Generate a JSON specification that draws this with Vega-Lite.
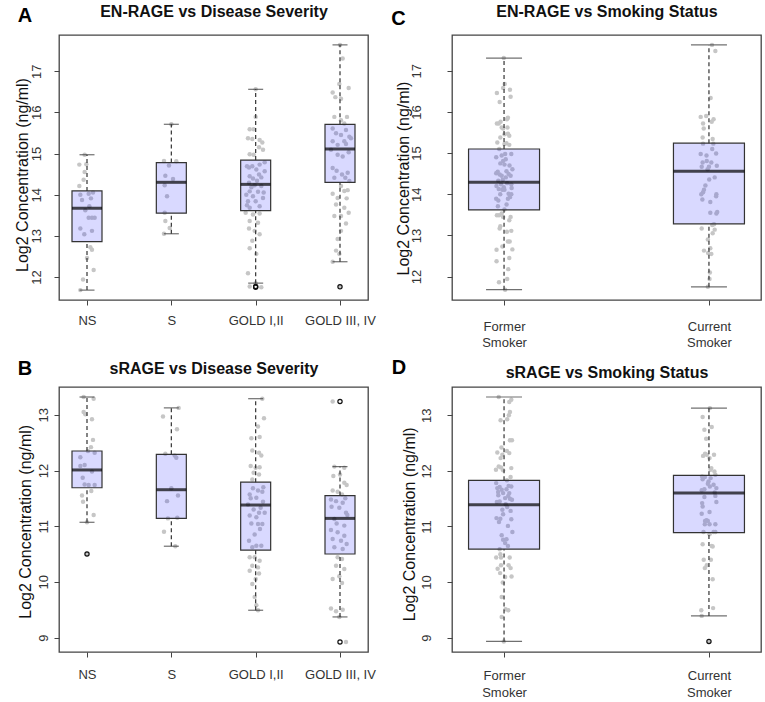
{
"$schema": "https://vega.github.io/schema/vega-lite/v6.json",
"padding": {"left": 14, "top": 2, "right": 5, "bottom": 2},
"columns": 2,
"spacing": {"row": 87, "column": 84},
"bounds": "flush",
"datasets": {
"ptsA": [
{"g":"NS","j":-0.091,"v":14.73},{"g":"NS","j":-0.008,"v":14.74},{"g":"NS","j":-0.028,"v":14.55},{"g":"NS","j":-0.04,"v":14.36},{"g":"NS","j":-0.091,"v":14.21},{"g":"NS","j":-0.079,"v":14.0},{"g":"NS","j":0.02,"v":14.02},{"g":"NS","j":0.071,"v":14.05},{"g":"NS","j":-0.059,"v":13.87},{"g":"NS","j":0.047,"v":13.91},{"g":"NS","j":0.028,"v":13.72},{"g":"NS","j":-0.02,"v":13.62},{"g":"NS","j":0.02,"v":13.44},{"g":"NS","j":0.059,"v":13.44},{"g":"NS","j":0.091,"v":13.44},{"g":"NS","j":-0.079,"v":13.18},{"g":"NS","j":0.059,"v":13.12},{"g":"NS","j":-0.032,"v":13.04},{"g":"NS","j":0.04,"v":12.72},{"g":"NS","j":0.059,"v":12.66},{"g":"NS","j":0,"v":12.46},{"g":"NS","j":0.079,"v":12.17},{"g":"NS","j":-0.047,"v":11.94},{"g":"NS","j":-0.079,"v":11.68},{"g":"NS","j":-0.028,"v":14.97},
{"g":"S","j":-0.087,"v":14.82},{"g":"S","j":-0.028,"v":14.71},{"g":"S","j":0.059,"v":14.81},{"g":"S","j":-0.071,"v":14.46},{"g":"S","j":0.02,"v":14.38},{"g":"S","j":-0.079,"v":14.23},{"g":"S","j":-0.051,"v":13.96},{"g":"S","j":-0.079,"v":13.56},{"g":"S","j":-0.071,"v":13.36},{"g":"S","j":-0.02,"v":13.19},{"g":"S","j":-0.087,"v":13.05},{"g":"S","j":0,"v":15.71},
{"g":"GOLD I,II","j":0,"v":16.56},{"g":"GOLD I,II","j":0,"v":15.89},{"g":"GOLD I,II","j":-0.071,"v":15.59},{"g":"GOLD I,II","j":-0.024,"v":15.59},{"g":"GOLD I,II","j":-0.091,"v":15.37},{"g":"GOLD I,II","j":-0.04,"v":15.35},{"g":"GOLD I,II","j":0.047,"v":15.33},{"g":"GOLD I,II","j":0.079,"v":15.27},{"g":"GOLD I,II","j":0.04,"v":15.15},{"g":"GOLD I,II","j":0.087,"v":15.09},{"g":"GOLD I,II","j":-0.071,"v":14.98},{"g":"GOLD I,II","j":-0.024,"v":14.97},{"g":"GOLD I,II","j":0.107,"v":14.79},{"g":"GOLD I,II","j":-0.04,"v":14.69},{"g":"GOLD I,II","j":-0.079,"v":14.66},{"g":"GOLD I,II","j":0.047,"v":14.73},{"g":"GOLD I,II","j":0.008,"v":14.61},{"g":"GOLD I,II","j":-0.071,"v":14.45},{"g":"GOLD I,II","j":-0.032,"v":14.39},{"g":"GOLD I,II","j":0.04,"v":14.49},{"g":"GOLD I,II","j":0.107,"v":14.57},{"g":"GOLD I,II","j":-0.079,"v":14.29},{"g":"GOLD I,II","j":-0.012,"v":14.23},{"g":"GOLD I,II","j":0.067,"v":14.21},{"g":"GOLD I,II","j":-0.071,"v":14.08},{"g":"GOLD I,II","j":0.028,"v":14.07},{"g":"GOLD I,II","j":-0.111,"v":14.0},{"g":"GOLD I,II","j":-0.032,"v":13.96},{"g":"GOLD I,II","j":0.087,"v":13.92},{"g":"GOLD I,II","j":-0.091,"v":13.84},{"g":"GOLD I,II","j":0,"v":13.84},{"g":"GOLD I,II","j":0.047,"v":13.72},{"g":"GOLD I,II","j":-0.071,"v":13.68},{"g":"GOLD I,II","j":-0.119,"v":13.56},{"g":"GOLD I,II","j":-0.032,"v":13.52},{"g":"GOLD I,II","j":0.047,"v":13.54},{"g":"GOLD I,II","j":-0.071,"v":13.36},{"g":"GOLD I,II","j":0.028,"v":13.32},{"g":"GOLD I,II","j":-0.079,"v":13.18},{"g":"GOLD I,II","j":-0.012,"v":13.12},{"g":"GOLD I,II","j":0.047,"v":13.04},{"g":"GOLD I,II","j":-0.04,"v":12.88},{"g":"GOLD I,II","j":-0.071,"v":12.7},{"g":"GOLD I,II","j":0.008,"v":12.56},{"g":"GOLD I,II","j":-0.091,"v":12.09},{"g":"GOLD I,II","j":0,"v":11.85},{"g":"GOLD I,II","j":-0.071,"v":11.77},{"g":"GOLD I,II","j":0.067,"v":11.75},{"g":"GOLD I,II","j":-0.103,"v":14.69},{"g":"GOLD I,II","j":0.067,"v":14.42},{"g":"GOLD I,II","j":-0.051,"v":14.18},{"g":"GOLD I,II","j":0.016,"v":14.34},{"g":"GOLD I,II","j":0.095,"v":14.05},{"g":"GOLD I,II","j":-0.103,"v":13.74},
{"g":"GOLD III, IV","j":0,"v":17.64},{"g":"GOLD III, IV","j":0.032,"v":17.31},{"g":"GOLD III, IV","j":-0.008,"v":16.69},{"g":"GOLD III, IV","j":0.103,"v":16.59},{"g":"GOLD III, IV","j":-0.087,"v":16.48},{"g":"GOLD III, IV","j":-0.055,"v":16.37},{"g":"GOLD III, IV","j":0.012,"v":16.33},{"g":"GOLD III, IV","j":-0.067,"v":15.89},{"g":"GOLD III, IV","j":0.083,"v":15.89},{"g":"GOLD III, IV","j":0.012,"v":15.81},{"g":"GOLD III, IV","j":0.051,"v":15.73},{"g":"GOLD III, IV","j":-0.087,"v":15.61},{"g":"GOLD III, IV","j":0.071,"v":15.57},{"g":"GOLD III, IV","j":-0.047,"v":15.49},{"g":"GOLD III, IV","j":0.012,"v":15.45},{"g":"GOLD III, IV","j":0.111,"v":15.41},{"g":"GOLD III, IV","j":-0.087,"v":15.3},{"g":"GOLD III, IV","j":0.051,"v":15.3},{"g":"GOLD III, IV","j":0.13,"v":15.37},{"g":"GOLD III, IV","j":-0.028,"v":15.21},{"g":"GOLD III, IV","j":0.071,"v":15.23},{"g":"GOLD III, IV","j":-0.107,"v":15.09},{"g":"GOLD III, IV","j":0.103,"v":15.03},{"g":"GOLD III, IV","j":-0.028,"v":14.97},{"g":"GOLD III, IV","j":0.032,"v":14.93},{"g":"GOLD III, IV","j":-0.087,"v":14.65},{"g":"GOLD III, IV","j":-0.04,"v":14.58},{"g":"GOLD III, IV","j":0.091,"v":14.53},{"g":"GOLD III, IV","j":0.024,"v":14.49},{"g":"GOLD III, IV","j":-0.067,"v":14.41},{"g":"GOLD III, IV","j":0.063,"v":14.41},{"g":"GOLD III, IV","j":0.111,"v":14.33},{"g":"GOLD III, IV","j":0.012,"v":14.21},{"g":"GOLD III, IV","j":0.091,"v":14.11},{"g":"GOLD III, IV","j":-0.087,"v":14.02},{"g":"GOLD III, IV","j":0.051,"v":14.09},{"g":"GOLD III, IV","j":-0.028,"v":13.92},{"g":"GOLD III, IV","j":0.079,"v":13.91},{"g":"GOLD III, IV","j":-0.047,"v":13.76},{"g":"GOLD III, IV","j":0.051,"v":13.68},{"g":"GOLD III, IV","j":0.103,"v":13.56},{"g":"GOLD III, IV","j":-0.067,"v":13.48},{"g":"GOLD III, IV","j":0.012,"v":13.48},{"g":"GOLD III, IV","j":0.071,"v":13.3},{"g":"GOLD III, IV","j":0.012,"v":13.12},{"g":"GOLD III, IV","j":-0.028,"v":12.92},{"g":"GOLD III, IV","j":-0.047,"v":12.64},{"g":"GOLD III, IV","j":-0.008,"v":12.56},{"g":"GOLD III, IV","j":-0.087,"v":12.37},{"g":"GOLD III, IV","j":0,"v":11.76}
],
"boxA": [
{"g":"NS","lo":11.68,"q1":12.86,"med":13.67,"q3":14.09,"hi":14.97},
{"g":"S","lo":13.05,"q1":13.55,"med":14.3,"q3":14.78,"hi":15.71},
{"g":"GOLD I,II","lo":11.85,"q1":13.61,"med":14.25,"q3":14.84,"hi":16.56},
{"g":"GOLD III, IV","lo":12.37,"q1":14.3,"med":15.11,"q3":15.71,"hi":17.64}
],
"outA": [{"g":"GOLD I,II","v":11.77},{"g":"GOLD I,II","v":11.75},{"g":"GOLD III, IV","v":11.76}],
"ptsB": [
{"g":"NS","j":-0.04,"v":13.32},{"g":"NS","j":0.079,"v":13.29},{"g":"NS","j":-0.04,"v":13.05},{"g":"NS","j":-0.02,"v":13.01},{"g":"NS","j":0.059,"v":12.92},{"g":"NS","j":0.071,"v":12.55},{"g":"NS","j":0.047,"v":12.42},{"g":"NS","j":0.091,"v":12.32},{"g":"NS","j":0.012,"v":12.35},{"g":"NS","j":-0.079,"v":12.24},{"g":"NS","j":-0.028,"v":12.1},{"g":"NS","j":-0.079,"v":12.08},{"g":"NS","j":0.059,"v":11.98},{"g":"NS","j":-0.051,"v":11.87},{"g":"NS","j":-0.028,"v":11.75},{"g":"NS","j":0.091,"v":11.74},{"g":"NS","j":0.02,"v":11.74},{"g":"NS","j":0.051,"v":11.63},{"g":"NS","j":-0.059,"v":11.55},{"g":"NS","j":-0.047,"v":11.44},{"g":"NS","j":0.079,"v":11.2},{"g":"NS","j":0,"v":11.07},{"g":"NS","j":0,"v":10.5},
{"g":"S","j":0.087,"v":13.125},{"g":"S","j":-0.099,"v":12.97},{"g":"S","j":0.067,"v":12.74},{"g":"S","j":-0.071,"v":12.3},{"g":"S","j":0.04,"v":12.27},{"g":"S","j":0.059,"v":12.23},{"g":"S","j":0,"v":11.68},{"g":"S","j":0.079,"v":11.55},{"g":"S","j":-0.051,"v":11.45},{"g":"S","j":0.071,"v":11.15},{"g":"S","j":-0.04,"v":11.14},{"g":"S","j":-0.087,"v":10.9},{"g":"S","j":0.047,"v":10.64},
{"g":"GOLD I,II","j":0.079,"v":13.29},{"g":"GOLD I,II","j":0.099,"v":12.94},{"g":"GOLD I,II","j":0.028,"v":12.79},{"g":"GOLD I,II","j":-0.051,"v":12.58},{"g":"GOLD I,II","j":0.047,"v":12.6},{"g":"GOLD I,II","j":-0.04,"v":12.36},{"g":"GOLD I,II","j":0.04,"v":12.32},{"g":"GOLD I,II","j":0.067,"v":12.27},{"g":"GOLD I,II","j":-0.059,"v":12.08},{"g":"GOLD I,II","j":0,"v":12.05},{"g":"GOLD I,II","j":0.047,"v":12.06},{"g":"GOLD I,II","j":-0.024,"v":11.96},{"g":"GOLD I,II","j":0.04,"v":11.93},{"g":"GOLD I,II","j":-0.04,"v":11.84},{"g":"GOLD I,II","j":-0.032,"v":11.68},{"g":"GOLD I,II","j":0.028,"v":11.64},{"g":"GOLD I,II","j":0.079,"v":11.62},{"g":"GOLD I,II","j":-0.071,"v":11.57},{"g":"GOLD I,II","j":0.008,"v":11.51},{"g":"GOLD I,II","j":0.087,"v":11.44},{"g":"GOLD I,II","j":-0.091,"v":11.39},{"g":"GOLD I,II","j":0.04,"v":11.24},{"g":"GOLD I,II","j":-0.071,"v":11.19},{"g":"GOLD I,II","j":0.107,"v":11.24},{"g":"GOLD I,II","j":0.008,"v":11.16},{"g":"GOLD I,II","j":-0.051,"v":11.05},{"g":"GOLD I,II","j":0.079,"v":11.04},{"g":"GOLD I,II","j":0.028,"v":11.04},{"g":"GOLD I,II","j":-0.079,"v":10.74},{"g":"GOLD I,II","j":0.008,"v":10.65},{"g":"GOLD I,II","j":0.067,"v":10.65},{"g":"GOLD I,II","j":-0.04,"v":10.62},{"g":"GOLD I,II","j":-0.071,"v":10.44},{"g":"GOLD I,II","j":-0.012,"v":10.44},{"g":"GOLD I,II","j":0.047,"v":10.38},{"g":"GOLD I,II","j":-0.04,"v":10.29},{"g":"GOLD I,II","j":0.028,"v":10.26},{"g":"GOLD I,II","j":-0.071,"v":10.2},{"g":"GOLD I,II","j":0.04,"v":10.15},{"g":"GOLD I,II","j":0,"v":10.05},{"g":"GOLD I,II","j":-0.04,"v":9.96},{"g":"GOLD I,II","j":-0.012,"v":9.73},{"g":"GOLD I,II","j":0.008,"v":9.58},{"g":"GOLD I,II","j":0.028,"v":9.49},{"g":"GOLD I,II","j":-0.024,"v":11.3},{"g":"GOLD I,II","j":0.059,"v":11.33},{"g":"GOLD I,II","j":-0.059,"v":11.5},{"g":"GOLD I,II","j":0.091,"v":11.7},{"g":"GOLD I,II","j":-0.012,"v":10.85},{"g":"GOLD I,II","j":0.051,"v":10.95},
{"g":"GOLD III, IV","j":-0.087,"v":13.24},{"g":"GOLD III, IV","j":-0.067,"v":12.07},{"g":"GOLD III, IV","j":0.051,"v":12.05},{"g":"GOLD III, IV","j":0,"v":11.93},{"g":"GOLD III, IV","j":-0.079,"v":11.9},{"g":"GOLD III, IV","j":0.051,"v":11.78},{"g":"GOLD III, IV","j":0.079,"v":11.74},{"g":"GOLD III, IV","j":-0.087,"v":11.64},{"g":"GOLD III, IV","j":-0.028,"v":11.62},{"g":"GOLD III, IV","j":0.024,"v":11.57},{"g":"GOLD III, IV","j":-0.107,"v":11.48},{"g":"GOLD III, IV","j":-0.047,"v":11.45},{"g":"GOLD III, IV","j":0.032,"v":11.42},{"g":"GOLD III, IV","j":-0.008,"v":11.33},{"g":"GOLD III, IV","j":0.071,"v":11.24},{"g":"GOLD III, IV","j":-0.067,"v":11.13},{"g":"GOLD III, IV","j":0.051,"v":11.01},{"g":"GOLD III, IV","j":-0.107,"v":10.93},{"g":"GOLD III, IV","j":-0.028,"v":10.89},{"g":"GOLD III, IV","j":0.051,"v":10.83},{"g":"GOLD III, IV","j":-0.087,"v":10.77},{"g":"GOLD III, IV","j":0.012,"v":10.74},{"g":"GOLD III, IV","j":0.079,"v":10.68},{"g":"GOLD III, IV","j":-0.067,"v":10.62},{"g":"GOLD III, IV","j":0.032,"v":10.59},{"g":"GOLD III, IV","j":-0.028,"v":10.44},{"g":"GOLD III, IV","j":0.024,"v":10.41},{"g":"GOLD III, IV","j":-0.047,"v":10.29},{"g":"GOLD III, IV","j":0.051,"v":10.23},{"g":"GOLD III, IV","j":-0.008,"v":10.1},{"g":"GOLD III, IV","j":-0.087,"v":10.05},{"g":"GOLD III, IV","j":0.024,"v":9.98},{"g":"GOLD III, IV","j":-0.107,"v":9.52},{"g":"GOLD III, IV","j":-0.047,"v":9.47},{"g":"GOLD III, IV","j":0.032,"v":9.5},{"g":"GOLD III, IV","j":-0.008,"v":9.37},{"g":"GOLD III, IV","j":0.071,"v":8.92},{"g":"GOLD III, IV","j":0.063,"v":11.5},{"g":"GOLD III, IV","j":-0.04,"v":11.05},{"g":"GOLD III, IV","j":0.087,"v":11.2},{"g":"GOLD III, IV","j":-0.1,"v":11.35}
],
"boxB": [
{"g":"NS","lo":11.07,"q1":11.69,"med":12.01,"q3":12.35,"hi":13.32},
{"g":"S","lo":10.64,"q1":11.14,"med":11.655,"q3":12.29,"hi":13.125},
{"g":"GOLD I,II","lo":9.49,"q1":10.57,"med":11.38,"q3":11.79,"hi":13.29},
{"g":"GOLD III, IV","lo":9.37,"q1":10.5,"med":11.14,"q3":11.55,"hi":12.07}
],
"outB": [{"g":"NS","v":10.5},{"g":"GOLD III, IV","v":13.24},{"g":"GOLD III, IV","v":8.92}],
"ptsC": [
{"g":"Former Smoker","j":-0.003,"v":17.31},{"g":"Former Smoker","j":0.008,"v":16.68},{"g":"Former Smoker","j":-0.011,"v":16.58},{"g":"Former Smoker","j":0.07,"v":16.54},{"g":"Former Smoker","j":-0.085,"v":16.46},{"g":"Former Smoker","j":0.078,"v":16.37},{"g":"Former Smoker","j":-0.052,"v":16.24},{"g":"Former Smoker","j":-0.085,"v":15.72},{"g":"Former Smoker","j":-0.063,"v":15.72},{"g":"Former Smoker","j":-0.041,"v":15.76},{"g":"Former Smoker","j":-0.028,"v":15.62},{"g":"Former Smoker","j":-0.011,"v":15.6},{"g":"Former Smoker","j":0.046,"v":15.86},{"g":"Former Smoker","j":0.034,"v":15.82},{"g":"Former Smoker","j":0.041,"v":15.62},{"g":"Former Smoker","j":0.046,"v":15.47},{"g":"Former Smoker","j":-0.044,"v":15.38},{"g":"Former Smoker","j":0.062,"v":15.42},{"g":"Former Smoker","j":0.005,"v":15.46},{"g":"Former Smoker","j":-0.08,"v":15.26},{"g":"Former Smoker","j":0.005,"v":15.22},{"g":"Former Smoker","j":0.029,"v":15.24},{"g":"Former Smoker","j":0.062,"v":15.2},{"g":"Former Smoker","j":-0.057,"v":15.1},{"g":"Former Smoker","j":-0.093,"v":14.9},{"g":"Former Smoker","j":-0.028,"v":14.94},{"g":"Former Smoker","j":0.013,"v":14.98},{"g":"Former Smoker","j":0.086,"v":14.98},{"g":"Former Smoker","j":-0.011,"v":14.81},{"g":"Former Smoker","j":-0.044,"v":14.75},{"g":"Former Smoker","j":0.005,"v":14.72},{"g":"Former Smoker","j":0.099,"v":14.61},{"g":"Former Smoker","j":-0.093,"v":14.51},{"g":"Former Smoker","j":-0.052,"v":14.48},{"g":"Former Smoker","j":-0.028,"v":14.45},{"g":"Former Smoker","j":0.029,"v":14.56},{"g":"Former Smoker","j":0.054,"v":14.49},{"g":"Former Smoker","j":0.078,"v":14.45},{"g":"Former Smoker","j":-0.068,"v":14.33},{"g":"Former Smoker","j":-0.036,"v":14.24},{"g":"Former Smoker","j":-0.003,"v":14.17},{"g":"Former Smoker","j":0.021,"v":14.41},{"g":"Former Smoker","j":0.037,"v":14.27},{"g":"Former Smoker","j":0.086,"v":14.24},{"g":"Former Smoker","j":-0.063,"v":14.13},{"g":"Former Smoker","j":-0.02,"v":14.11},{"g":"Former Smoker","j":0.005,"v":14.11},{"g":"Former Smoker","j":0.054,"v":14.01},{"g":"Former Smoker","j":0.086,"v":14.0},{"g":"Former Smoker","j":-0.093,"v":13.89},{"g":"Former Smoker","j":-0.068,"v":13.85},{"g":"Former Smoker","j":0.046,"v":13.89},{"g":"Former Smoker","j":0.07,"v":13.93},{"g":"Former Smoker","j":-0.073,"v":13.71},{"g":"Former Smoker","j":0.005,"v":13.63},{"g":"Former Smoker","j":-0.028,"v":13.53},{"g":"Former Smoker","j":-0.085,"v":13.49},{"g":"Former Smoker","j":-0.06,"v":13.49},{"g":"Former Smoker","j":-0.011,"v":13.45},{"g":"Former Smoker","j":0.078,"v":13.45},{"g":"Former Smoker","j":0.062,"v":13.37},{"g":"Former Smoker","j":-0.044,"v":13.22},{"g":"Former Smoker","j":-0.052,"v":13.17},{"g":"Former Smoker","j":0.034,"v":13.09},{"g":"Former Smoker","j":0.086,"v":13.11},{"g":"Former Smoker","j":0.046,"v":12.85},{"g":"Former Smoker","j":0.067,"v":12.85},{"g":"Former Smoker","j":-0.02,"v":12.73},{"g":"Former Smoker","j":-0.089,"v":12.65},{"g":"Former Smoker","j":0.099,"v":12.66},{"g":"Former Smoker","j":0.062,"v":12.45},{"g":"Former Smoker","j":-0.089,"v":12.37},{"g":"Former Smoker","j":0.05,"v":12.18},{"g":"Former Smoker","j":0.037,"v":11.94},{"g":"Former Smoker","j":-0.06,"v":11.86},{"g":"Former Smoker","j":0.013,"v":11.68},{"g":"Former Smoker","j":-0.075,"v":14.55},{"g":"Former Smoker","j":0.065,"v":14.7},{"g":"Former Smoker","j":-0.015,"v":14.35},{"g":"Former Smoker","j":0.09,"v":14.15},{"g":"Former Smoker","j":-0.045,"v":14.0},{"g":"Former Smoker","j":0.03,"v":13.75},{"g":"Former Smoker","j":-0.09,"v":14.2},{"g":"Former Smoker","j":0.02,"v":14.85},
{"g":"Current Smoker","j":0.036,"v":17.63},{"g":"Current Smoker","j":0.076,"v":17.48},{"g":"Current Smoker","j":0.02,"v":16.34},{"g":"Current Smoker","j":-0.098,"v":15.88},{"g":"Current Smoker","j":-0.033,"v":15.9},{"g":"Current Smoker","j":-0.07,"v":15.72},{"g":"Current Smoker","j":-0.062,"v":15.6},{"g":"Current Smoker","j":0.033,"v":15.76},{"g":"Current Smoker","j":0.055,"v":15.82},{"g":"Current Smoker","j":-0.075,"v":15.38},{"g":"Current Smoker","j":0.044,"v":15.34},{"g":"Current Smoker","j":-0.07,"v":15.23},{"g":"Current Smoker","j":0.052,"v":15.23},{"g":"Current Smoker","j":0.039,"v":15.1},{"g":"Current Smoker","j":-0.098,"v":14.98},{"g":"Current Smoker","j":-0.029,"v":14.94},{"g":"Current Smoker","j":0.085,"v":14.99},{"g":"Current Smoker","j":-0.075,"v":14.77},{"g":"Current Smoker","j":-0.026,"v":14.81},{"g":"Current Smoker","j":-0.086,"v":14.67},{"g":"Current Smoker","j":0.028,"v":14.77},{"g":"Current Smoker","j":0.093,"v":14.69},{"g":"Current Smoker","j":-0.016,"v":14.61},{"g":"Current Smoker","j":0,"v":14.67},{"g":"Current Smoker","j":0.068,"v":14.41},{"g":"Current Smoker","j":0.003,"v":14.36},{"g":"Current Smoker","j":-0.042,"v":14.21},{"g":"Current Smoker","j":-0.059,"v":14.11},{"g":"Current Smoker","j":-0.07,"v":14.05},{"g":"Current Smoker","j":-0.091,"v":14.0},{"g":"Current Smoker","j":0.088,"v":14.0},{"g":"Current Smoker","j":0.085,"v":13.95},{"g":"Current Smoker","j":-0.078,"v":13.87},{"g":"Current Smoker","j":0.016,"v":13.81},{"g":"Current Smoker","j":0.098,"v":13.57},{"g":"Current Smoker","j":0.088,"v":13.53},{"g":"Current Smoker","j":0.016,"v":13.55},{"g":"Current Smoker","j":-0.086,"v":13.17},{"g":"Current Smoker","j":0.039,"v":13.25},{"g":"Current Smoker","j":0.06,"v":13.27},{"g":"Current Smoker","j":0.068,"v":13.14},{"g":"Current Smoker","j":0.044,"v":13.05},{"g":"Current Smoker","j":-0.013,"v":12.9},{"g":"Current Smoker","j":0.016,"v":12.69},{"g":"Current Smoker","j":-0.059,"v":12.63},{"g":"Current Smoker","j":-0.01,"v":12.57},{"g":"Current Smoker","j":0.028,"v":12.55},{"g":"Current Smoker","j":0.011,"v":12.1},{"g":"Current Smoker","j":0.007,"v":11.94},{"g":"Current Smoker","j":-0.013,"v":11.75}
],
"boxC": [
{"g":"Former Smoker","lo":11.68,"q1":13.62,"med":14.29,"q3":15.1,"hi":17.31},
{"g":"Current Smoker","lo":11.75,"q1":13.28,"med":14.56,"q3":15.24,"hi":17.63}
],
"ptsD": [
{"g":"Former Smoker","j":-0.063,"v":13.33},{"g":"Former Smoker","j":0.062,"v":13.24},{"g":"Former Smoker","j":0.086,"v":13.28},{"g":"Former Smoker","j":0.07,"v":13.06},{"g":"Former Smoker","j":0.057,"v":13.0},{"g":"Former Smoker","j":-0.041,"v":12.91},{"g":"Former Smoker","j":0.037,"v":12.93},{"g":"Former Smoker","j":0.07,"v":12.55},{"g":"Former Smoker","j":0.094,"v":12.55},{"g":"Former Smoker","j":-0.08,"v":12.33},{"g":"Former Smoker","j":-0.031,"v":12.42},{"g":"Former Smoker","j":0.034,"v":12.36},{"g":"Former Smoker","j":0.062,"v":12.32},{"g":"Former Smoker","j":-0.041,"v":12.23},{"g":"Former Smoker","j":-0.02,"v":12.29},{"g":"Former Smoker","j":-0.096,"v":12.02},{"g":"Former Smoker","j":-0.063,"v":12.08},{"g":"Former Smoker","j":-0.036,"v":12.06},{"g":"Former Smoker","j":-0.011,"v":12.01},{"g":"Former Smoker","j":0.086,"v":12.05},{"g":"Former Smoker","j":0.078,"v":11.89},{"g":"Former Smoker","j":0.034,"v":11.83},{"g":"Former Smoker","j":-0.093,"v":11.78},{"g":"Former Smoker","j":0.054,"v":11.73},{"g":"Former Smoker","j":0.086,"v":11.72},{"g":"Former Smoker","j":-0.08,"v":11.69},{"g":"Former Smoker","j":-0.052,"v":11.71},{"g":"Former Smoker","j":-0.028,"v":11.66},{"g":"Former Smoker","j":-0.011,"v":11.6},{"g":"Former Smoker","j":0.029,"v":11.67},{"g":"Former Smoker","j":0.062,"v":11.6},{"g":"Former Smoker","j":-0.068,"v":11.56},{"g":"Former Smoker","j":0.013,"v":11.51},{"g":"Former Smoker","j":0.094,"v":11.48},{"g":"Former Smoker","j":-0.085,"v":11.44},{"g":"Former Smoker","j":-0.052,"v":11.45},{"g":"Former Smoker","j":0.037,"v":11.35},{"g":"Former Smoker","j":0.078,"v":11.28},{"g":"Former Smoker","j":-0.011,"v":11.22},{"g":"Former Smoker","j":-0.044,"v":11.14},{"g":"Former Smoker","j":-0.06,"v":11.08},{"g":"Former Smoker","j":0.046,"v":11.01},{"g":"Former Smoker","j":0.086,"v":11.13},{"g":"Former Smoker","j":0.099,"v":10.9},{"g":"Former Smoker","j":-0.028,"v":10.84},{"g":"Former Smoker","j":-0.011,"v":10.76},{"g":"Former Smoker","j":0.029,"v":10.77},{"g":"Former Smoker","j":0.013,"v":10.7},{"g":"Former Smoker","j":0.046,"v":10.65},{"g":"Former Smoker","j":-0.052,"v":10.59},{"g":"Former Smoker","j":-0.093,"v":10.44},{"g":"Former Smoker","j":-0.044,"v":10.5},{"g":"Former Smoker","j":-0.036,"v":10.44},{"g":"Former Smoker","j":0.067,"v":10.44},{"g":"Former Smoker","j":-0.076,"v":10.24},{"g":"Former Smoker","j":-0.036,"v":10.3},{"g":"Former Smoker","j":0.054,"v":10.3},{"g":"Former Smoker","j":0.078,"v":10.25},{"g":"Former Smoker","j":-0.047,"v":10.16},{"g":"Former Smoker","j":0.013,"v":10.09},{"g":"Former Smoker","j":0.089,"v":10.1},{"g":"Former Smoker","j":-0.015,"v":9.99},{"g":"Former Smoker","j":-0.028,"v":9.73},{"g":"Former Smoker","j":0.018,"v":9.51},{"g":"Former Smoker","j":0.05,"v":9.49},{"g":"Former Smoker","j":-0.028,"v":9.37},{"g":"Former Smoker","j":-0.003,"v":8.93},{"g":"Former Smoker","j":-0.07,"v":11.62},{"g":"Former Smoker","j":0.02,"v":11.4},{"g":"Former Smoker","j":0.07,"v":11.5},{"g":"Former Smoker","j":-0.02,"v":11.3},{"g":"Former Smoker","j":0.05,"v":11.55},{"g":"Former Smoker","j":-0.09,"v":11.15},
{"g":"Current Smoker","j":0.011,"v":13.13},{"g":"Current Smoker","j":-0.075,"v":12.97},{"g":"Current Smoker","j":0.033,"v":12.79},{"g":"Current Smoker","j":-0.054,"v":12.74},{"g":"Current Smoker","j":-0.033,"v":12.58},{"g":"Current Smoker","j":-0.07,"v":12.27},{"g":"Current Smoker","j":-0.046,"v":12.31},{"g":"Current Smoker","j":-0.026,"v":12.29},{"g":"Current Smoker","j":0.007,"v":12.23},{"g":"Current Smoker","j":0.06,"v":12.29},{"g":"Current Smoker","j":0.028,"v":12.05},{"g":"Current Smoker","j":0.02,"v":12.02},{"g":"Current Smoker","j":0.065,"v":11.99},{"g":"Current Smoker","j":0.076,"v":11.93},{"g":"Current Smoker","j":-0.081,"v":11.9},{"g":"Current Smoker","j":-0.049,"v":11.89},{"g":"Current Smoker","j":-0.075,"v":11.85},{"g":"Current Smoker","j":-0.005,"v":11.81},{"g":"Current Smoker","j":0.02,"v":11.87},{"g":"Current Smoker","j":-0.013,"v":11.77},{"g":"Current Smoker","j":0.011,"v":11.72},{"g":"Current Smoker","j":0.055,"v":11.75},{"g":"Current Smoker","j":0.088,"v":11.69},{"g":"Current Smoker","j":-0.086,"v":11.65},{"g":"Current Smoker","j":-0.054,"v":11.67},{"g":"Current Smoker","j":0.068,"v":11.61},{"g":"Current Smoker","j":-0.054,"v":11.53},{"g":"Current Smoker","j":0.076,"v":11.55},{"g":"Current Smoker","j":-0.081,"v":11.42},{"g":"Current Smoker","j":0.088,"v":11.44},{"g":"Current Smoker","j":-0.075,"v":11.36},{"g":"Current Smoker","j":-0.086,"v":11.23},{"g":"Current Smoker","j":0.007,"v":11.26},{"g":"Current Smoker","j":-0.046,"v":11.1},{"g":"Current Smoker","j":-0.029,"v":11.11},{"g":"Current Smoker","j":-0.013,"v":11.1},{"g":"Current Smoker","j":0.007,"v":11.04},{"g":"Current Smoker","j":-0.049,"v":11.04},{"g":"Current Smoker","j":0.076,"v":11.04},{"g":"Current Smoker","j":-0.065,"v":10.9},{"g":"Current Smoker","j":0.055,"v":10.9},{"g":"Current Smoker","j":0.076,"v":10.9},{"g":"Current Smoker","j":0.007,"v":10.86},{"g":"Current Smoker","j":-0.075,"v":10.68},{"g":"Current Smoker","j":0.033,"v":10.65},{"g":"Current Smoker","j":0.044,"v":10.64},{"g":"Current Smoker","j":-0.062,"v":10.4},{"g":"Current Smoker","j":0.023,"v":10.4},{"g":"Current Smoker","j":-0.049,"v":10.25},{"g":"Current Smoker","j":-0.026,"v":10.3},{"g":"Current Smoker","j":0.044,"v":10.05},{"g":"Current Smoker","j":0.049,"v":9.53},{"g":"Current Smoker","j":-0.091,"v":9.49},{"g":"Current Smoker","j":-0.086,"v":9.39},{"g":"Current Smoker","j":0,"v":8.93}
],
"boxD": [
{"g":"Former Smoker","lo":8.93,"q1":10.59,"med":11.39,"q3":11.83,"hi":13.33},
{"g":"Current Smoker","lo":9.39,"q1":10.89,"med":11.6,"q3":11.92,"hi":13.13}
],
"outD": [{"g":"Current Smoker","v":8.93}]
},
"concat": [
{
"width": 309, "height": 265,
"title": {"text": "A", "anchor": "start", "frame": "bounds", "fontSize": 20, "fontWeight": "bold", "dy": 27, "dx": 3},
"data": {"name": "boxA"},
"resolve": {"axis": {"x": "independent"}},
"layer": [
{"data": {"name": "ptsA"}, "mark": {"type": "circle", "size": 20, "color": "#c6c6c6", "opacity": 1},
 "encoding": {
  "x": {"field": "g", "type": "nominal", "scale": {"type": "point", "domain": ["NS","S","GOLD I,II","GOLD III, IV"], "padding": 0.332}, "axis": {"title": null, "labelPadding": 9}},
  "xOffset": {"field": "j", "type": "quantitative", "scale": {"domain": [-1, 1], "range": [-84.3, 84.3]}},
  "y": {"field": "v", "type": "quantitative", "scale": {"domain": [11.44, 17.88], "nice": false, "zero": false}, "axis": {"title": "Log2 Concentration (ng/ml)", "values": [12,13,14,15,16,17], "format": "d", "labelPadding": 10.3, "titlePadding": 0, "titleY": 139.5}}}},
{"mark": {"type": "bar", "width": 30, "fill": "#0000ff", "fillOpacity": 0.15, "stroke": "#333", "strokeWidth": 1.2},
 "encoding": {"x": {"field": "g", "type": "nominal", "axis": {"orient": "top", "title": "EN-RAGE vs Disease Severity", "labels": false, "ticks": false, "domain": false, "titleFontSize": 16, "titleFontWeight": "bold", "titlePadding": 16}},
  "y": {"field": "q1", "type": "quantitative"}, "y2": {"field": "q3"}}},
{"mark": {"type": "rule", "strokeDash": [4, 3], "color": "#333", "strokeWidth": 1.2},
 "encoding": {"x": {"field": "g", "type": "nominal", "axis": null}, "y": {"field": "lo", "type": "quantitative"}, "y2": {"field": "q1"}}},
{"mark": {"type": "rule", "strokeDash": [4, 3], "color": "#333", "strokeWidth": 1.2},
 "encoding": {"x": {"field": "g", "type": "nominal", "axis": null}, "y": {"field": "q3", "type": "quantitative"}, "y2": {"field": "hi"}}},
{"mark": {"type": "tick", "size": 15, "thickness": 1.2, "color": "#333"},
 "encoding": {"x": {"field": "g", "type": "nominal", "axis": null}, "y": {"field": "lo", "type": "quantitative"}}},
{"mark": {"type": "tick", "size": 15, "thickness": 1.2, "color": "#333"},
 "encoding": {"x": {"field": "g", "type": "nominal", "axis": null}, "y": {"field": "hi", "type": "quantitative"}}},
{"mark": {"type": "tick", "size": 30, "thickness": 3, "color": "#000"},
 "encoding": {"x": {"field": "g", "type": "nominal", "axis": null}, "y": {"field": "med", "type": "quantitative"}}},
{"data": {"name": "outA"}, "mark": {"type": "point", "filled": false, "size": 18, "stroke": "#111", "strokeWidth": 1.2, "opacity": 1},
 "encoding": {"x": {"field": "g", "type": "nominal", "axis": null}, "y": {"field": "v", "type": "quantitative"}}}
]
},
{
"width": 309, "height": 265,
"title": {"text": "C", "anchor": "start", "frame": "bounds", "fontSize": 20, "fontWeight": "bold", "dy": 29.5, "dx": -4},
"data": {"name": "boxC"},
"resolve": {"axis": {"x": "independent"}},
"layer": [
{"data": {"name": "ptsC"}, "mark": {"type": "circle", "size": 20, "color": "#c6c6c6", "opacity": 1},
 "encoding": {
  "x": {"field": "g", "type": "nominal", "scale": {"type": "point", "domain": ["Former Smoker","Current Smoker"], "padding": 0.254}, "axis": {"title": null, "labelPadding": 15.5, "labelExpr": "split(datum.label, ' ')", "labelLineHeight": 16}},
  "xOffset": {"field": "j", "type": "quantitative", "scale": {"domain": [-1, 1], "range": [-205, 205]}},
  "y": {"field": "v", "type": "quantitative", "scale": {"domain": [11.43, 17.87], "nice": false, "zero": false}, "axis": {"title": "Log2 Concentration (ng/ml)", "values": [12,13,14,15,16,17], "format": "d", "labelPadding": 23.4, "titlePadding": -0.7, "titleY": 143}}}},
{"mark": {"type": "bar", "width": 71, "fill": "#0000ff", "fillOpacity": 0.15, "stroke": "#333", "strokeWidth": 1.2},
 "encoding": {"x": {"field": "g", "type": "nominal", "axis": {"orient": "top", "title": "EN-RAGE vs Smoking Status", "labels": false, "ticks": false, "domain": false, "titleFontSize": 16, "titleFontWeight": "bold", "titlePadding": 15.6}},
  "y": {"field": "q1", "type": "quantitative"}, "y2": {"field": "q3"}}},
{"mark": {"type": "rule", "strokeDash": [4, 3], "color": "#333", "strokeWidth": 1.2},
 "encoding": {"x": {"field": "g", "type": "nominal", "axis": null}, "y": {"field": "lo", "type": "quantitative"}, "y2": {"field": "q1"}}},
{"mark": {"type": "rule", "strokeDash": [4, 3], "color": "#333", "strokeWidth": 1.2},
 "encoding": {"x": {"field": "g", "type": "nominal", "axis": null}, "y": {"field": "q3", "type": "quantitative"}, "y2": {"field": "hi"}}},
{"mark": {"type": "tick", "size": 36, "thickness": 1.2, "color": "#333"},
 "encoding": {"x": {"field": "g", "type": "nominal", "axis": null}, "y": {"field": "lo", "type": "quantitative"}}},
{"mark": {"type": "tick", "size": 36, "thickness": 1.2, "color": "#333"},
 "encoding": {"x": {"field": "g", "type": "nominal", "axis": null}, "y": {"field": "hi", "type": "quantitative"}}},
{"mark": {"type": "tick", "size": 71, "thickness": 3, "color": "#000"},
 "encoding": {"x": {"field": "g", "type": "nominal", "axis": null}, "y": {"field": "med", "type": "quantitative"}}}
]
},
{
"width": 309, "height": 265,
"title": {"text": "B", "anchor": "start", "frame": "bounds", "fontSize": 20, "fontWeight": "bold", "dy": 22.3},
"data": {"name": "boxB"},
"resolve": {"axis": {"x": "independent"}},
"layer": [
{"data": {"name": "ptsB"}, "mark": {"type": "circle", "size": 20, "color": "#c6c6c6", "opacity": 1},
 "encoding": {
  "x": {"field": "g", "type": "nominal", "scale": {"type": "point", "domain": ["NS","S","GOLD I,II","GOLD III, IV"], "padding": 0.332}, "axis": {"title": null, "labelPadding": 11}},
  "xOffset": {"field": "j", "type": "quantitative", "scale": {"domain": [-1, 1], "range": [-84.3, 84.3]}},
  "y": {"field": "v", "type": "quantitative", "scale": {"domain": [8.74, 13.5], "nice": false, "zero": false}, "axis": {"title": "Log2 Concentration (ng/ml)", "values": [9,10,11,12,13], "format": "d", "labelPadding": 3.6, "titlePadding": 3.7, "titleY": 134.3}}}},
{"mark": {"type": "bar", "width": 30, "fill": "#0000ff", "fillOpacity": 0.15, "stroke": "#333", "strokeWidth": 1.2},
 "encoding": {"x": {"field": "g", "type": "nominal", "axis": {"orient": "top", "title": "sRAGE vs Disease Severity", "labels": false, "ticks": false, "domain": false, "titleFontSize": 16, "titleFontWeight": "bold", "titlePadding": 10.6}},
  "y": {"field": "q1", "type": "quantitative"}, "y2": {"field": "q3"}}},
{"mark": {"type": "rule", "strokeDash": [4, 3], "color": "#333", "strokeWidth": 1.2},
 "encoding": {"x": {"field": "g", "type": "nominal", "axis": null}, "y": {"field": "lo", "type": "quantitative"}, "y2": {"field": "q1"}}},
{"mark": {"type": "rule", "strokeDash": [4, 3], "color": "#333", "strokeWidth": 1.2},
 "encoding": {"x": {"field": "g", "type": "nominal", "axis": null}, "y": {"field": "q3", "type": "quantitative"}, "y2": {"field": "hi"}}},
{"mark": {"type": "tick", "size": 15, "thickness": 1.2, "color": "#333"},
 "encoding": {"x": {"field": "g", "type": "nominal", "axis": null}, "y": {"field": "lo", "type": "quantitative"}}},
{"mark": {"type": "tick", "size": 15, "thickness": 1.2, "color": "#333"},
 "encoding": {"x": {"field": "g", "type": "nominal", "axis": null}, "y": {"field": "hi", "type": "quantitative"}}},
{"mark": {"type": "tick", "size": 30, "thickness": 3, "color": "#000"},
 "encoding": {"x": {"field": "g", "type": "nominal", "axis": null}, "y": {"field": "med", "type": "quantitative"}}},
{"data": {"name": "outB"}, "mark": {"type": "point", "filled": false, "size": 18, "stroke": "#111", "strokeWidth": 1.2, "opacity": 1},
 "encoding": {"x": {"field": "g", "type": "nominal", "axis": null}, "y": {"field": "v", "type": "quantitative"}}}
]
},
{
"width": 309, "height": 265,
"title": {"text": "D", "anchor": "start", "frame": "bounds", "fontSize": 20, "fontWeight": "bold", "dy": 18, "dx": -10},
"data": {"name": "boxD"},
"resolve": {"axis": {"x": "independent"}},
"layer": [
{"data": {"name": "ptsD"}, "mark": {"type": "circle", "size": 20, "color": "#c6c6c6", "opacity": 1},
 "encoding": {
  "x": {"field": "g", "type": "nominal", "scale": {"type": "point", "domain": ["Former Smoker","Current Smoker"], "padding": 0.254}, "axis": {"title": null, "labelPadding": 12.5, "labelExpr": "split(datum.label, ' ')", "labelLineHeight": 17}},
  "xOffset": {"field": "j", "type": "quantitative", "scale": {"domain": [-1, 1], "range": [-205, 205]}},
  "y": {"field": "v", "type": "quantitative", "scale": {"domain": [8.74, 13.51], "nice": false, "zero": false}, "axis": {"title": "Log2 Concentration (ng/ml)", "values": [9,10,11,12,13], "format": "d", "labelPadding": 13.4, "titlePadding": 2.9, "titleY": 136.8}}}},
{"mark": {"type": "bar", "width": 71, "fill": "#0000ff", "fillOpacity": 0.15, "stroke": "#333", "strokeWidth": 1.2},
 "encoding": {"x": {"field": "g", "type": "nominal", "axis": {"orient": "top", "title": "sRAGE vs Smoking Status", "labels": false, "ticks": false, "domain": false, "titleFontSize": 16, "titleFontWeight": "bold", "titlePadding": 6.6}},
  "y": {"field": "q1", "type": "quantitative"}, "y2": {"field": "q3"}}},
{"mark": {"type": "rule", "strokeDash": [4, 3], "color": "#333", "strokeWidth": 1.2},
 "encoding": {"x": {"field": "g", "type": "nominal", "axis": null}, "y": {"field": "lo", "type": "quantitative"}, "y2": {"field": "q1"}}},
{"mark": {"type": "rule", "strokeDash": [4, 3], "color": "#333", "strokeWidth": 1.2},
 "encoding": {"x": {"field": "g", "type": "nominal", "axis": null}, "y": {"field": "q3", "type": "quantitative"}, "y2": {"field": "hi"}}},
{"mark": {"type": "tick", "size": 36, "thickness": 1.2, "color": "#333"},
 "encoding": {"x": {"field": "g", "type": "nominal", "axis": null}, "y": {"field": "lo", "type": "quantitative"}}},
{"mark": {"type": "tick", "size": 36, "thickness": 1.2, "color": "#333"},
 "encoding": {"x": {"field": "g", "type": "nominal", "axis": null}, "y": {"field": "hi", "type": "quantitative"}}},
{"mark": {"type": "tick", "size": 71, "thickness": 3, "color": "#000"},
 "encoding": {"x": {"field": "g", "type": "nominal", "axis": null}, "y": {"field": "med", "type": "quantitative"}}},
{"data": {"name": "outD"}, "mark": {"type": "point", "filled": false, "size": 18, "stroke": "#111", "strokeWidth": 1.2, "opacity": 1},
 "encoding": {"x": {"field": "g", "type": "nominal", "axis": null}, "y": {"field": "v", "type": "quantitative"}}}
]
}
],
"config": {
 "font": "Liberation Sans",
 "view": {"stroke": "#444", "strokeWidth": 1.3},
 "axis": {"grid": false, "domain": false, "labelFontSize": 13, "labelColor": "#333", "tickColor": "#444", "tickSize": 5, "titleFontSize": 16, "titleFontWeight": "normal", "titleColor": "#111"},
 "axisY": {"labelAngle": -90, "labelAlign": "center", "labelBaseline": "bottom"},
 "axisX": {"labelAngle": 0},
 "title": {"color": "#000"}
}
}
